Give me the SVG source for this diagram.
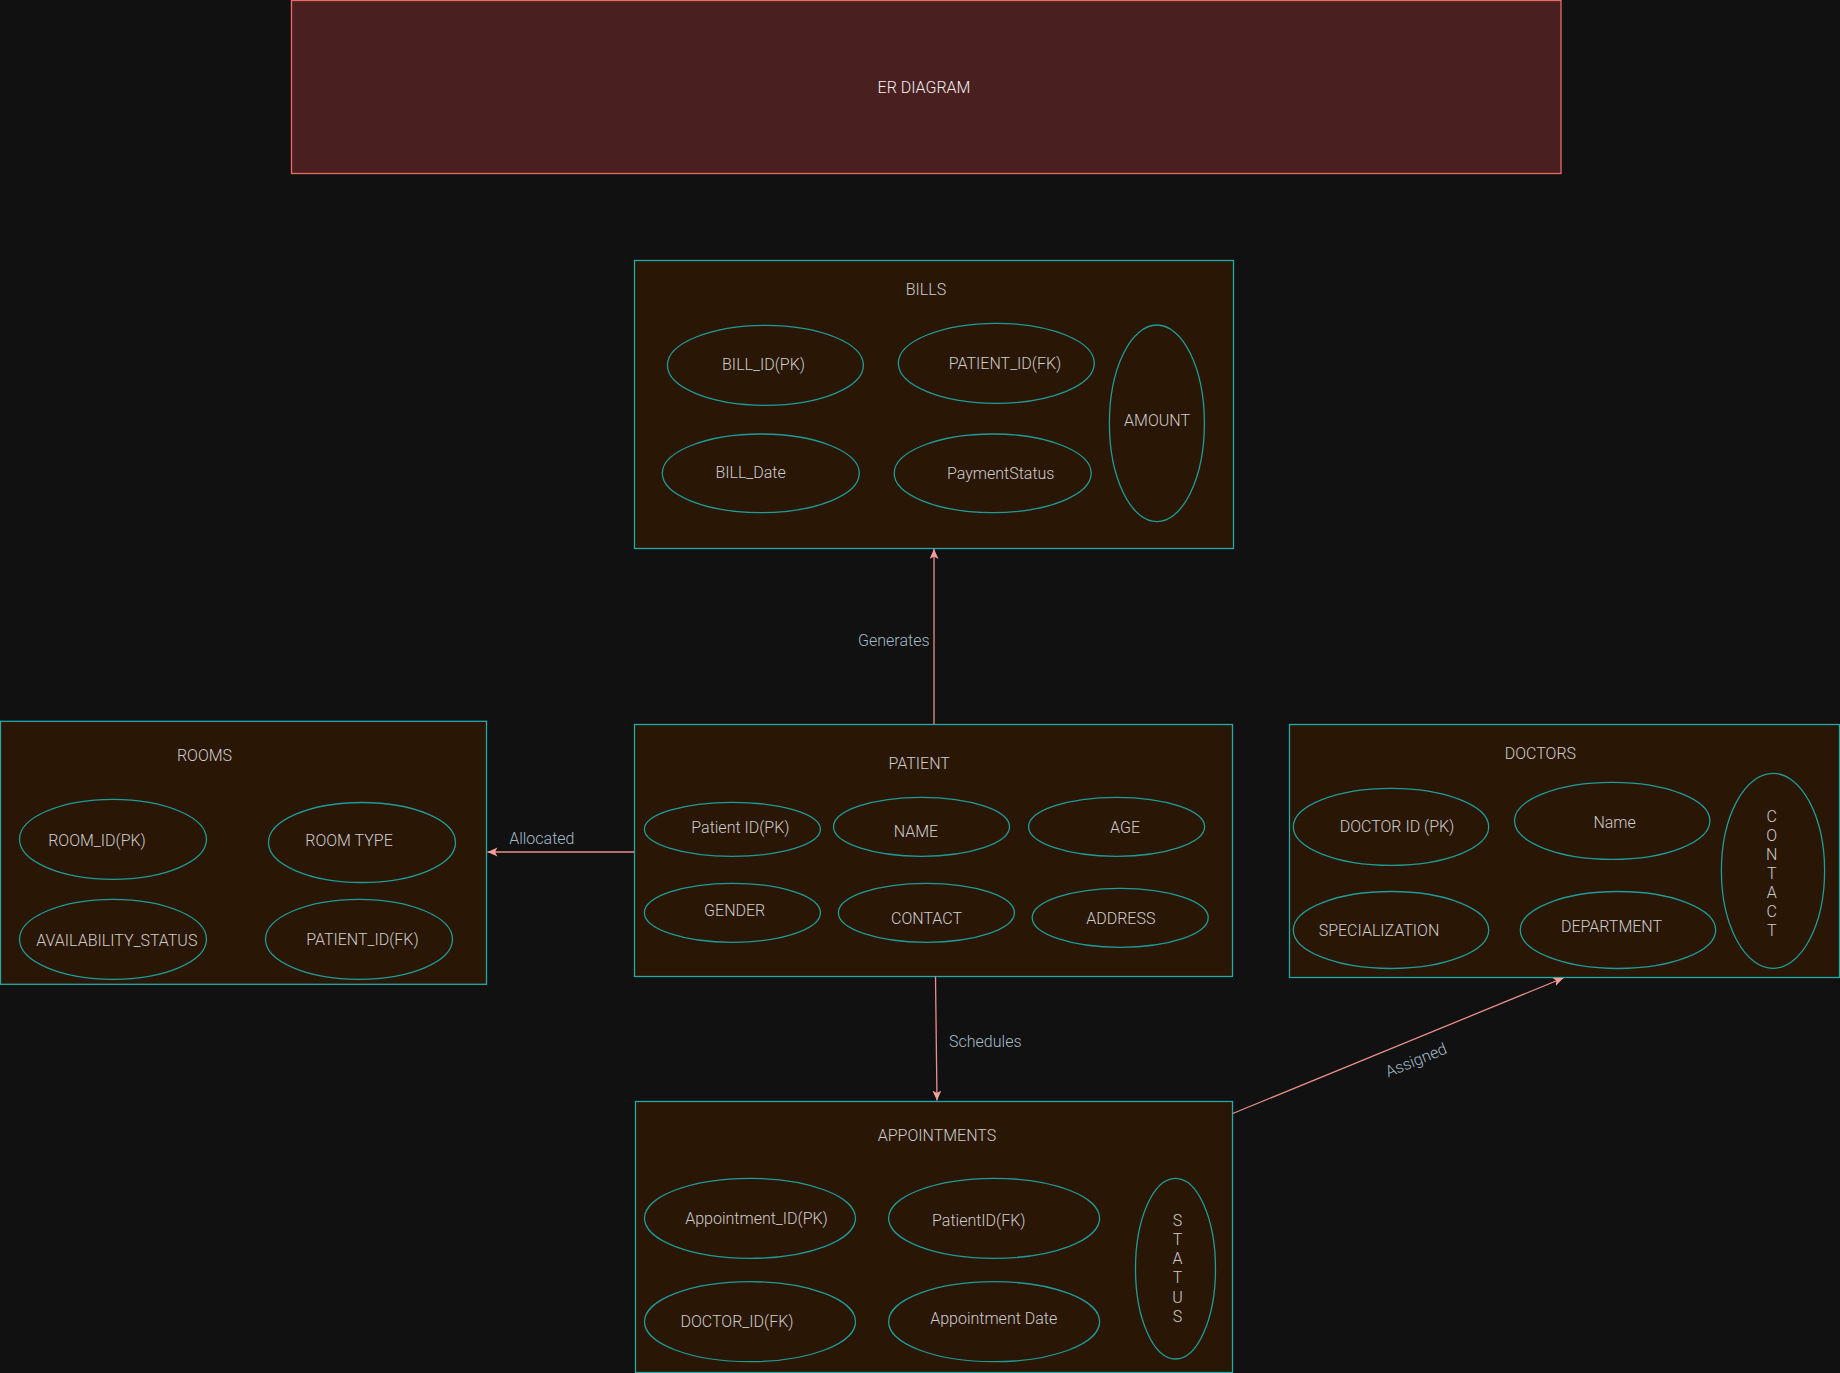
<svg xmlns="http://www.w3.org/2000/svg" width="1840" height="1373" viewBox="0 0 1840 1373">
<style>
  .ent { fill: #2a1604; stroke: #20aaaa; stroke-width: 1.3; }
  .att { fill: none; stroke: #1f9c98; stroke-width: 1.3; }
  .t { font-family: Roboto, "Liberation Sans", sans-serif; font-weight: 300; font-size: 16px; fill: #cdcdcd; text-anchor: middle; }
  .lbl { font-family: Roboto, "Liberation Sans", sans-serif; font-weight: 300; font-size: 16px; fill: #a3bcc8; text-anchor: middle; }
  .edge { stroke: #e98e8a; stroke-width: 1.3; fill: none; marker-end: url(#arr); }
</style>
<defs>
  <marker id="arr" markerUnits="userSpaceOnUse" markerWidth="11" markerHeight="10" refX="10" refY="4.5" orient="auto">
    <path d="M0,0 L10,4.5 L0,9 L2.5,4.5 z" fill="#f4a09c"/>
  </marker>
</defs>
<rect x="0" y="0" width="1840" height="1373" fill="#111111"/>

<g id="er-title">
  <rect x="291.5" y="0.5" width="1269.5" height="173" fill="#4a1f20" stroke="#ea6b66" stroke-width="1.3"/>
  <text class="t" x="924" y="93" style="fill:#f0f0f0">ER DIAGRAM</text>
</g>

<g id="bills">
  <rect class="ent" x="634.5" y="260.5" width="599" height="288"/>
  <text class="t" x="926" y="294.5">BILLS</text>
  <ellipse class="att" cx="765.4" cy="365.3" rx="98" ry="40"/>
  <text class="t" x="763.5" y="370">BILL_ID(PK)</text>
  <ellipse class="att" cx="996.3" cy="363.3" rx="98" ry="40"/>
  <text class="t" x="1005" y="369">PATIENT_ID(FK)</text>
  <ellipse class="att" cx="760.8" cy="473.3" rx="98.5" ry="39.3"/>
  <text class="t" x="750.6" y="478">BILL_Date</text>
  <ellipse class="att" cx="992.7" cy="473.3" rx="98.5" ry="39.3"/>
  <text class="t" x="1000.7" y="479">PaymentStatus</text>
  <ellipse class="att" cx="1156.9" cy="423.3" rx="47.5" ry="98.3"/>
  <text class="t" x="1157" y="425.7">AMOUNT</text>
</g>

<g id="rooms">
  <rect class="ent" x="0.5" y="721.3" width="486" height="263"/>
  <text class="t" x="204.5" y="760.5">ROOMS</text>
  <ellipse class="att" cx="113" cy="839.3" rx="93.5" ry="40"/>
  <text class="t" x="97" y="845.5">ROOM_ID(PK)</text>
  <ellipse class="att" cx="362" cy="842.5" rx="93.5" ry="40"/>
  <text class="t" x="349" y="845.5">ROOM TYPE</text>
  <ellipse class="att" cx="113" cy="939.3" rx="93.5" ry="40"/>
  <text class="t" x="116.8" y="945.5">AVAILABILITY_STATUS</text>
  <ellipse class="att" cx="359" cy="939.3" rx="93.5" ry="40"/>
  <text class="t" x="362.4" y="945">PATIENT_ID(FK)</text>
</g>

<g id="patient">
  <rect class="ent" x="634.5" y="724.5" width="598" height="252"/>
  <text class="t" x="919.2" y="769">PATIENT</text>
  <ellipse class="att" cx="732.4" cy="829.3" rx="88" ry="27"/>
  <text class="t" x="740.4" y="833">Patient ID(PK)</text>
  <ellipse class="att" cx="921.5" cy="826.8" rx="88" ry="29.5"/>
  <text class="t" x="916" y="836.7">NAME</text>
  <ellipse class="att" cx="1116.6" cy="826.8" rx="88" ry="29.5"/>
  <text class="t" x="1125" y="833">AGE</text>
  <ellipse class="att" cx="732.4" cy="912.8" rx="88" ry="29.5"/>
  <text class="t" x="734.7" y="915.7">GENDER</text>
  <ellipse class="att" cx="926.4" cy="912.8" rx="88" ry="29.5"/>
  <text class="t" x="926.5" y="924">CONTACT</text>
  <ellipse class="att" cx="1120.2" cy="917.8" rx="88" ry="29.5"/>
  <text class="t" x="1120.8" y="924">ADDRESS</text>
</g>

<g id="doctors">
  <rect class="ent" x="1289.5" y="724.5" width="550" height="253"/>
  <text class="t" x="1540.4" y="759">DOCTORS</text>
  <ellipse class="att" cx="1391" cy="826.8" rx="97.7" ry="38.5"/>
  <text class="t" x="1397" y="832.4">DOCTOR ID (PK)</text>
  <ellipse class="att" cx="1612.2" cy="820.8" rx="97.7" ry="38.5"/>
  <text class="t" x="1614.6" y="828">Name</text>
  <ellipse class="att" cx="1773" cy="870.8" rx="51.6" ry="97.5"/>
  <text class="t" x="1771.7" y="821.7">C<tspan x="1771.7" dy="19.1">O</tspan><tspan x="1771.7" dy="19.1">N</tspan><tspan x="1771.7" dy="19.1">T</tspan><tspan x="1771.7" dy="19.1">A</tspan><tspan x="1771.7" dy="19.1">C</tspan><tspan x="1771.7" dy="19.1">T</tspan></text>
  <ellipse class="att" cx="1391" cy="930" rx="97.7" ry="38.5"/>
  <text class="t" x="1379" y="935.7">SPECIALIZATION</text>
  <ellipse class="att" cx="1618" cy="930" rx="97.7" ry="38.5"/>
  <text class="t" x="1611.5" y="932">DEPARTMENT</text>
</g>

<g id="appointments">
  <rect class="ent" x="635.5" y="1101.5" width="597" height="271"/>
  <text class="t" x="937" y="1140.7">APPOINTMENTS</text>
  <ellipse class="att" cx="750" cy="1218.3" rx="105.5" ry="40"/>
  <text class="t" x="756.5" y="1224">Appointment_ID(PK)</text>
  <ellipse class="att" cx="994.1" cy="1218.3" rx="105.5" ry="40"/>
  <text class="t" x="978.8" y="1225.7">PatientID(FK)</text>
  <ellipse class="att" cx="750" cy="1321.7" rx="105.5" ry="40"/>
  <text class="t" x="737" y="1326.7">DOCTOR_ID(FK)</text>
  <ellipse class="att" cx="994.1" cy="1321.7" rx="105.5" ry="40"/>
  <text class="t" x="993.7" y="1324.4">Appointment Date</text>
  <ellipse class="att" cx="1175.5" cy="1268.7" rx="40" ry="90.3"/>
  <text class="t" x="1177.6" y="1225.7">S<tspan x="1177.6" dy="19.2">T</tspan><tspan x="1177.6" dy="19.2">A</tspan><tspan x="1177.6" dy="19.2">T</tspan><tspan x="1177.6" dy="19.2">U</tspan><tspan x="1177.6" dy="19.2">S</tspan></text>
</g>

<g id="connectors">
  <path class="edge" d="M934,724 L934,549"/>
  <text class="lbl" x="893.8" y="645.7">Generates</text>
  <path class="edge" d="M634,852 L487.5,852"/>
  <text class="lbl" x="541.8" y="843.7">Allocated</text>
  <path class="edge" d="M935.5,976.5 L937,1100.5"/>
  <text class="lbl" x="985.3" y="1046.7">Schedules</text>
  <path class="edge" d="M1232.7,1113.5 L1563.3,978"/>
  <text class="lbl" x="1416" y="1065.7" transform="rotate(-22.4 1416 1060)">Assigned</text>
</g>
</svg>
